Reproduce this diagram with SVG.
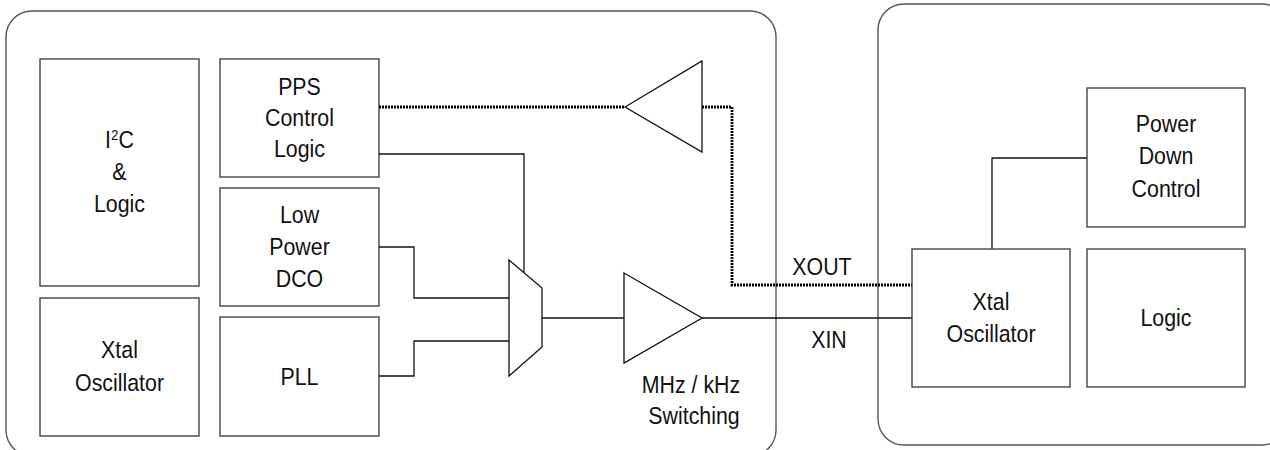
<svg xmlns="http://www.w3.org/2000/svg" width="1270" height="450" viewBox="0 0 1270 450">
<style>
.panel{fill:#fff;stroke:#555;stroke-width:1.4}
.box{fill:#fff;stroke:#444;stroke-width:1.4}
.wire{fill:none;stroke:#111;stroke-width:1.3}
.dot{fill:none;stroke:#000;stroke-width:2.8;stroke-dasharray:2 1}
.amp{fill:#fff;stroke:#111;stroke-width:1.3}
text{font-family:"Liberation Sans",Arial,sans-serif;font-size:24px;fill:#111;text-anchor:middle;transform-box:fill-box;transform-origin:center;transform:scaleX(0.89)}
</style>
<rect width="1270" height="450" fill="#fff"/>
<g id="panel-left"><rect class="panel" x="6" y="11" width="770" height="445" rx="26" ry="26"/></g>
<g id="panel-right"><rect class="panel" x="878" y="4" width="410" height="441" rx="26" ry="26"/></g>

<g id="i2c"><rect class="box" x="40" y="59" width="159" height="227"/>
<text x="119.5" y="148">I<tspan font-size="15" dy="-8">2</tspan><tspan dy="8">C</tspan></text>
<text x="119.5" y="180">&amp;</text>
<text x="119.5" y="212">Logic</text></g>

<g id="xtal-left"><rect class="box" x="40" y="298" width="159" height="138"/>
<text x="119.5" y="358">Xtal</text>
<text x="119.5" y="391">Oscillator</text></g>

<g id="pps"><rect class="box" x="220" y="59" width="159" height="118"/>
<text x="299.5" y="95">PPS</text>
<text x="299.5" y="126">Control</text>
<text x="299.5" y="157">Logic</text></g>

<g id="dco"><rect class="box" x="220" y="188" width="159" height="118"/>
<text x="299.5" y="223">Low</text>
<text x="299.5" y="255">Power</text>
<text x="299.5" y="287">DCO</text></g>

<g id="pll"><rect class="box" x="220" y="317" width="159" height="119"/>
<text x="299.5" y="385">PLL</text></g>

<g id="connectors">
<path class="dot" d="M379,107 H625"/>
<path class="dot" d="M702,107 H732 V285 H912"/>
<path class="wire" d="M379,154 H524 V273"/>
<path class="wire" d="M379,247 H414 V298 H509"/>
<path class="wire" d="M379,376 H414 V341 H509"/>
<path class="wire" d="M542,318 H624"/>
<path class="wire" d="M702,318 H912"/>
<path class="wire" d="M992,249 V158 H1087"/>
</g>

<g id="buffer-top"><polygon class="amp" points="625,107 702,61 702,152"/></g>
<g id="mux"><polygon class="amp" points="509,260 542,288 542,347 509,376"/></g>
<g id="buffer-main"><polygon class="amp" points="624,273 702,318 624,363"/>
<text x="691" y="393">MHz / kHz</text>
<text x="694" y="424">Switching</text></g>

<g id="labels">
<text x="822" y="275">XOUT</text>
<text x="829" y="348">XIN</text>
</g>

<g id="xtal-right"><rect class="box" x="912" y="249" width="158" height="138"/>
<text x="991" y="310">Xtal</text>
<text x="991" y="342">Oscillator</text></g>

<g id="powerdown"><rect class="box" x="1087" y="88" width="158" height="139"/>
<text x="1166" y="132">Power</text>
<text x="1166" y="164">Down</text>
<text x="1166" y="197">Control</text></g>

<g id="logic-right"><rect class="box" x="1087" y="249" width="158" height="138"/>
<text x="1166" y="326">Logic</text></g>
</svg>
